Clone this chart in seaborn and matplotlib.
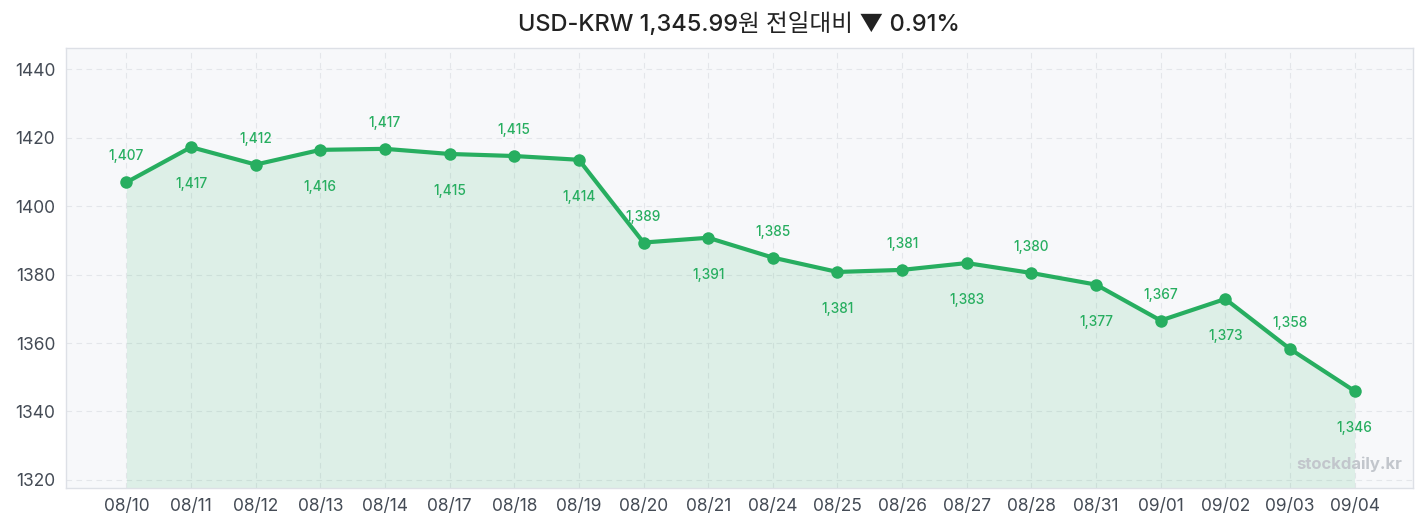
import matplotlib
matplotlib.use("Agg")
import matplotlib.pyplot as plt
import seaborn as sns
import pandas as pd

dates = ["08/10", "08/11", "08/12", "08/13", "08/14", "08/17", "08/18", "08/19", "08/20", "08/21",
         "08/24", "08/25", "08/26", "08/27", "08/28", "08/31", "09/01", "09/02", "09/03", "09/04"]
rates = [1407.0, 1417.3, 1412.2, 1416.5, 1416.8, 1415.3, 1414.7, 1413.6, 1389.4, 1390.8,
         1385.0, 1380.8, 1381.4, 1383.4, 1380.5, 1377.1, 1366.6, 1372.9, 1358.3, 1345.99]
title = "USD-KRW 1,345.99원 전일대비 ▼ 0.91%"

green = "#27ae60"

sns.set_style("white")
plt.rcParams['font.family'] = ['Inter', 'Noto Sans CJK KR', 'DejaVu Sans']

df = pd.DataFrame({"date": dates, "rate": rates, "i": range(len(dates))})

fig, ax = plt.subplots(figsize=(14.27, 5.29), dpi=100)
fig.subplots_adjust(left=0.046, right=0.99, top=0.91, bottom=0.078)
ax.set_facecolor("#f7f8fa")

ymin, ymax = 1317.7, 1446.4
ax.fill_between(df["i"], df["rate"], ymin, color=green, alpha=0.12, linewidth=0)
sns.lineplot(data=df, x="i", y="rate", ax=ax, color=green, linewidth=3,
             marker="o", markersize=9, markeredgewidth=0)

for k, row in df.iterrows():
    off = 26 if k % 2 == 0 else -37
    ax.annotate(f"{round(row['rate']):,}", (row["i"], row["rate"]),
                xytext=(0, off), textcoords="offset pixels",
                ha="center", va="center", fontsize=9.8, color=green, fontweight="medium")

ax.set_xlim(-0.94, 19.9)
ax.set_ylim(ymin, ymax)
ax.set_xticks(df["i"])
ax.set_xticklabels(dates)
ax.set_yticks([1320, 1340, 1360, 1380, 1400, 1420, 1440])
ax.tick_params(axis="both", labelsize=12.5, colors="#444b55", length=4, width=1)
ax.set_xlabel("")
ax.set_ylabel("")
ax.grid(True, linestyle=(0, (5, 4)), color="#e4e6ea", linewidth=0.8)
for s in ax.spines.values():
    s.set_color("#dde0e6")
    s.set_linewidth(1)

ax.text(0.992, 0.035, "stockdaily.kr", transform=ax.transAxes, ha="right", va="bottom",
        fontsize=12, color="#c2c6cc", fontweight="bold")
ax.set_title(title, fontsize=17, color="#222222", pad=12, fontweight="medium")

fig.savefig("out.png", dpi=100)
